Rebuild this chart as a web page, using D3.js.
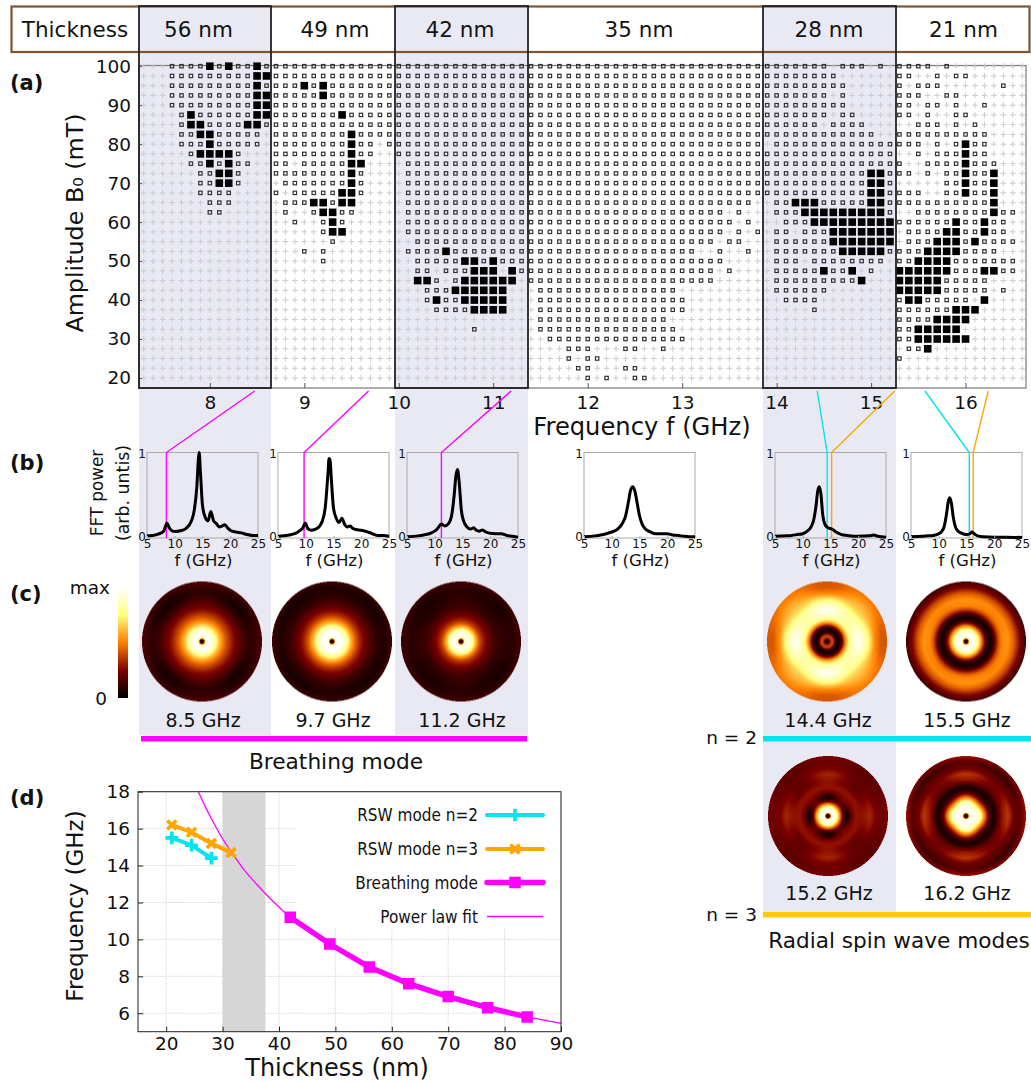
<!DOCTYPE html>
<html>
<head>
<meta charset="utf-8">
<title>Spin wave modes versus thickness</title>
<script src="https://cdn.jsdelivr.net/npm/d3@7"></script>
<style>
  body { margin: 0; background: #fff; }
  text { font-family: "DejaVu Sans", sans-serif; fill: #111; }
</style>
</head>
<body>
<div id="chart"></div>
<script>
// (a) map of the response: + nothing, o weak, # strong. One list per thickness, one string per amplitude
var amplitudes = [100, 97.5, 95, 92.5, 90, 87.5, 85, 82.5, 80, 77.5, 75, 72.5, 70, 67.5, 65, 62.5, 60,
    57.5, 55, 52.5, 50, 47.5, 45, 42.5, 40, 37.5, 35, 32.5, 30, 27.5, 25, 22.5, 20];
var frequencies = [7.3, 7.4, 7.5, 7.6, 7.7, 7.8, 7.9, 8.0, 8.1, 8.2, 8.3, 8.4, 8.5, 8.6,
    8.7, 8.8, 8.9, 9.0, 9.1, 9.2, 9.3, 9.4, 9.5, 9.6, 9.7, 9.8, 9.9,
    10.0, 10.1, 10.2, 10.3, 10.4, 10.5, 10.6, 10.7, 10.8, 10.9, 11.0, 11.1, 11.2, 11.3,
    11.4, 11.5, 11.6, 11.7, 11.8, 11.9, 12.0, 12.1, 12.2, 12.3, 12.4, 12.5, 12.6, 12.7, 12.8, 12.9,
    13.0, 13.1, 13.2, 13.3, 13.4, 13.5, 13.6, 13.7, 13.8,
    13.9, 14.0, 14.1, 14.2, 14.3, 14.4, 14.5, 14.6, 14.7, 14.8, 14.9, 15.0, 15.1, 15.2,
    15.3, 15.4, 15.5, 15.6, 15.7, 15.8, 15.9, 16.0, 16.1, 16.2, 16.3, 16.4, 16.5, 16.6];

var rows56 = [
    "+++oooo#o#oo#o", "+++ooooooooo##", "+++ooooooooo#o", "+++ooooooooo##", "+++ooooooooo##",
    "++++o#oooooo##", "++++o##oooo##o", "++++oo##ooooo+", "++++ooo#ooooo+", "+++++o####o+++",
    "+++++oo#o#oo++", "++++++oo##o+++", "++++++oo##o+++", "++++++oooo++++", "+++++++ooo++++",
    "+++++++oo+++++", "++++++++++++++", "++++++++++++++", "++++++++++++++", "++++++++++++++",
    "++++++++++++++", "++++++++++++++", "++++++++++++++", "++++++++++++++", "++++++++++++++",
    "++++++++++++++", "++++++++++++++", "++++++++++++++", "++++++++++++++", "++++++++++++++",
    "++++++++++++++", "++++++++++++++", "++++++++++++++"];
var rows49 = [
    "ooooooooooooo", "ooooooooooooo", "ooo#o#ooooooo", "ooooo#ooooooo", "ooooooooooooo",
    "ooooooo#ooooo", "ooooooooooooo", "oooooooo#oooo", "oooooooo#oo+o", "oooooooo#oo++",
    "oo+ooooo##+++", "oooooooo#o+++", "+ooooooo#o+++", "o+ooooo##o+++", "+ooo##o##++++",
    "+o++o##oo++++", "++o++o#o+++++", "+++++o##+++++", "++++++o++++++", "+++o+o+++++++",
    "+++++o+++++++", "+++++++++++++", "+++++++++++++", "+++++++++++++", "+++++++++++++",
    "+++++++++++++", "+++++++++++++", "+++++++++++++", "+++++++++++++", "+++++++++++++",
    "+++++++++++++", "+++++++++++++", "+++++++++++++"];
var rows42 = [
    "oooooooooooooo", "oooooooooooooo", "oooooooooooooo", "oooooooooooooo", "oooooooooooooo",
    "oooooooooooooo", "oooooooooooooo", "oooooooooooooo", "oooooooooooooo", "oooooooooooooo",
    "+ooooooooooooo", "+ooooooooooooo", "+ooooooooooooo", "+ooooooooooooo", "+ooooooooooooo",
    "+ooooooooooooo", "+ooooooooooooo", "+ooooooooooooo", "++oooooooooooo", "+oooo#oooooooo",
    "++ooooo##o#ooo", "++oo+ooo###+#o", "++##o+o######+", "+++ooo######++", "+++o#oo#####++",
    "++++oooo####++", "++++++++++++++", "++++++++o+++++", "++++++++++++++", "++++++++++++++",
    "++++++++++++++", "++++++++++++++", "++++++++++++++"];
var rows35 = [
    "ooooooooooooooooooooooooo", "ooooooooooooooooooooooooo", "ooooooooooooooooooooooooo",
    "ooooooooooooooooooooooooo", "ooooooooooooooooooooooooo", "ooooooooooooooooooooooooo",
    "ooooooooooooooooooooooooo", "ooooooooooooooooooooooooo", "ooooooooooooooooooooooooo",
    "ooooooooooooooooooooooooo", "ooooooooooooooooooooooooo", "ooooooooooooooooooooooooo",
    "ooooooooooooooooooooooooo", "ooooooooooooooooooooooooo", "oooooooooooooooooooooooo+",
    "ooooooooooooooooooooo+o++", "oooooooooooooooooooooo+o+", "ooooooooooooooooooooo+o+o",
    "oooooooooooooooooooo+oo++", "oooooooooooooooooo++o++o+", "ooooooooooooooooooooo++++",
    "oooooooooooooooooooo+o+++", "oooooooooooooooooooo+++++", "+ooooooooooooooo+++++++++",
    "+oooooooooooooooo++++++++", "+oooooooooooooooo++++++++", "+oooooooooooooo++++++++++",
    "+ooooooooooooooo+++++++++", "++ooooooooooooooo++++++++", "++++ooo+++oo++o++++++++++",
    "++++o+oo+++++++++++++++++", "+++++oo+++oo+++++++++++++", "++++++o+o++oo++++++++++++"];
var rows28 = [
    "ooooooo+ooo+o+", "oooooooo++++++", "ooooooooo+++++", "ooooooo+o+++++", "ooooooooo+++++",
    "ooooooo+oo++++", "oooooo+oooo+++", "oooooooooooo++", "+ooooooooooooo", "oooooooooooooo",
    "oooooooooooooo", "ooooooooooo##o", "ooooooooooo##o", "ooooooooooo##o", "+oo###ooooo##o",
    "+ooo#########o", "++ooo#########", "+oo+ooo#######", "+oooooo#######", "+ooooooo#####o",
    "+ooo+oooooooo+", "+ooooo#oo#+o++", "+ooooooooo#+++", "+oooooo+++++++", "++oooo++++++++",
    "+++++o++++++++", "++++++++++++++", "++++++++++++++", "++++++++++++++", "++++++++++++++",
    "++++++++++++++", "++++++++++++++", "++++++++++++++"];
var rows21 = [
    "oooo+o++++++++", "oo++o+oo++++++", "o+ooo++++++o++", "ooo++oo+++++++", "oo+oo+o++o++++",
    "oo+o++oo++++++", "++ooo+o+o+++++", "oooooooooo++++", "ooo+o+o#oo++++", "++o+ooo#oo++++",
    "o++oooo#ooo+++", "oo+o+oo#oo#+++", "+++++oo#oo#+++", "ooo++oo#oo#+++", "oooooooooo#+++",
    "++oooooooo#oo+", "oooooo#oo#oo++", "+oooo##oo#oo++", "+ooo###o#oooo+", "ooo####oooo+++",
    "oo####ooooooo+", "######ooo##oo+", "#####ooooo++++", "#####ooooo+o++", "o##ooooo+#++++",
    "oooooo###+++++", "oooo####++++++", "oo#####+++++++", "oo######++++++", "+oo#++++++++++",
    "o+++++++++++++", "++++++++++++++", "++++++++++++++"];
var thicknessRows = [rows56, rows49, rows42, rows35, rows28, rows21];

var ampTicks = [20, 30, 40, 50, 60, 70, 80, 90, 100];
var freqTicks = [8, 9, 10, 11, 12, 13, 14, 15, 16];
var headerLabels = ["56 nm", "49 nm", "42 nm", "35 nm", "28 nm", "21 nm"];

// (b) FFT spectra, frequency and power per thickness
var fft56f = [5, 6, 7, 8, 8.3, 8.6, 9, 9.5, 10, 11, 12, 13, 13.5, 14, 14.25, 14.4, 14.6, 15, 15.5, 16, 16.5, 17, 17.5, 18, 18.5, 19, 19.5, 20, 21, 22, 23, 24, 25];
var fft56p = [.025, .03, .045, .08, .13, .175, .12, .085, .075, .085, .11, .2, .32, .62, .92, 1, .8, .38, .24, .2, .31, .2, .17, .13, .14, .155, .12, .09, .07, .06, .04, .03, .03];
var fft49f = [5, 6, 7, 8, 9, 9.5, 9.9, 10.4, 11, 12, 13, 13.5, 14, 14.2, 14.4, 14.6, 15, 15.5, 16, 16.5, 17, 17.5, 18, 18.5, 19, 20, 21, 22, 23, 24, 25];
var fft49p = [.02, .025, .035, .05, .09, .12, .175, .11, .09, .11, .2, .35, .75, .93, .9, .7, .35, .23, .18, .23, .16, .13, .14, .11, .1, .09, .075, .05, .03, .03, .02];
var fft42f = [5, 7, 8, 9, 10, 10.5, 11.2, 11.8, 12.5, 13, 13.5, 13.8, 14.1, 14.4, 14.8, 15.2, 15.8, 16.5, 17, 17.5, 18, 18.6, 19.2, 20, 21, 22, 23, 24, 25];
var fft42p = [.015, .025, .035, .05, .08, .11, .165, .14, .17, .25, .5, .72, .8, .65, .32, .2, .13, .105, .12, .09, .08, .095, .07, .055, .05, .05, .03, .02, .01];
var fft35f = [5, 7, 8, 9, 10, 11, 12, 12.5, 13, 13.4, 13.8, 14.2, 14.6, 15, 15.5, 16, 17, 18, 19, 20, 21, 22, 23, 24, 25];
var fft35p = [.015, .025, .035, .05, .07, .1, .18, .26, .42, .56, .6, .54, .4, .26, .16, .11, .07, .05, .05, .05, .035, .03, .02, .015, .015];
var fft28f = [5, 7, 8, 9, 10, 11, 11.5, 12, 12.4, 12.7, 13, 13.3, 13.6, 14, 14.5, 15, 15.4, 16, 17, 18, 20, 22, 22.8, 23.5, 25];
var fft28p = [.02, .025, .03, .04, .05, .09, .13, .22, .38, .55, .6, .5, .27, .16, .12, .11, .1, .07, .04, .03, .02, .025, .035, .02, .01];
var fft21f = [5, 7, 8, 9, 10, 10.5, 11, 11.4, 11.7, 12, 12.3, 12.6, 13, 13.5, 14, 15, 15.6, 16, 16.5, 17, 18, 20, 22, 25];
var fft21p = [.015, .02, .025, .03, .05, .075, .14, .28, .42, .47, .4, .25, .13, .08, .06, .04, .05, .07, .045, .025, .015, .01, .01, .005];
var fftTicks = [5, 10, 15, 20, 25];

// (c) radial power profile of the modes, colour value against radius (0 centre, 1 rim)
var radii = [0, .03, .06, .1, .15, .2, .25, .3, .35, .4, .45, .5, .55, .6, .7, .8, .9, 1];
var profile85 = [.02, .1, .85, 1, .97, .88, .72, .6, .5, .42, .36, .3, .25, .2, .12, .07, .09, .15];
var profile97 = [.02, .1, .9, 1, 1, .92, .8, .65, .52, .42, .34, .28, .23, .18, .11, .07, .06, .12];
var profile112 = [.02, .1, .85, 1, .93, .78, .58, .42, .33, .27, .22, .17, .14, .11, .09, .07, .08, .13];
var profile144 = [.02, .1, .35, .4, .08, .03, .2, .48, .7, .82, .87, .89, .89, .85, .7, .56, .48, .45];
var profile155 = [.02, .1, .85, 1, .95, .78, .55, .3, .1, .04, .1, .28, .42, .5, .53, .42, .24, .12];
var profile152 = [.02, .1, .9, 1, .82, .5, .22, .1, .16, .24, .28, .28, .26, .24, .26, .22, .2, .22];
var profile162 = [.02, .1, .88, 1, .97, .9, .72, .48, .28, .12, .05, .08, .18, .25, .3, .2, .15, .28];
// four-fold part of the same profiles, positive means brighter on the horizontal and vertical axes
var fold85 = [0, 0, 0, 0, 0, 0, 0, 0, 0, 0, 0, 0, 0, .01, .02, .025, .02, .01];
var fold97 = [0, 0, 0, 0, 0, 0, 0, 0, 0, 0, 0, 0, 0, 0, .01, .01, .01, .01];
var fold112 = [0, 0, 0, 0, 0, 0, 0, 0, 0, 0, 0, 0, 0, .01, .015, .015, .015, .01];
var fold144 = [0, 0, 0, 0, 0, 0, 0, 0, 0, .01, .04, .07, .07, .06, .03, -.05, -.06, -.03];
var fold155 = [0, 0, 0, 0, 0, 0, 0, 0, 0, 0, 0, 0, .01, .01, .01, .01, .01, .01];
var fold152 = [0, 0, 0, 0, 0, 0, -.04, -.07, -.07, -.02, 0, 0, .02, .05, .06, .02, .02, .02];
var fold162 = [0, 0, 0, 0, 0, .05, .06, .06, .04, .02, 0, 0, .02, .04, .06, .02, .03, .03];
var diskLabels = ["8.5 GHz", "9.7 GHz", "11.2 GHz", "14.4 GHz", "15.5 GHz", "15.2 GHz", "16.2 GHz"];

// (d) frequency against thickness
var n2Thickness = [21, 24.5, 28];
var n2Freq = [15.5, 15.1, 14.4];
var n3Thickness = [21, 24.5, 28, 31.5];
var n3Freq = [16.2, 15.8, 15.2, 14.7];
var breathThickness = [42, 49, 56, 63, 70, 77, 84];
var breathFreq = [11.2, 9.75, 8.5, 7.6, 6.9, 6.3, 5.8];
var fitThickness = [25.7, 27, 28, 30, 32, 34, 36, 38, 40, 42, 49, 56, 63, 70, 77, 84, 90];
var fitFreq = [18, 17.15, 16.55, 15.45, 14.55, 13.7, 13, 12.35, 11.75, 11.2, 9.75, 8.5, 7.6, 6.9, 6.3, 5.8, 5.45];
var thicknessTicks = [20, 30, 40, 50, 60, 70, 80, 90];
var freqDTicks = [6, 8, 10, 12, 14, 16, 18];
var legendLabels = ["RSW mode n=2", "RSW mode n=3", "Breathing mode", "Power law fit"];

var magenta = "#ff00ff", cyan = "#00e5ee", orange = "#ffa500", gold = "#ffc800";
var paleBand = "#e9e9f3", brown = "#80532f";

var svg = d3.select("#chart").append("svg")
    .attr("width", 1031)
    .attr("height", 1083)
    .style("display", "block");

function label(x, y, str, size, anchor, weight) {
    return svg.append("text")
        .attr("x", x).attr("y", y)
        .attr("text-anchor", anchor || "middle")
        .attr("dominant-baseline", "central")
        .attr("font-size", size)
        .attr("font-weight", weight || "normal")
        .text(str);
}

function rotatedLabel(x, y, str, size) {
    return svg.append("text")
        .attr("transform", "translate(" + x + "," + y + ") rotate(-90)")
        .attr("text-anchor", "middle")
        .attr("dominant-baseline", "central")
        .attr("font-size", size)
        .text(str);
}

// pale bands behind the alternate thickness columns
[[139, 271, 735], [395, 528, 735], [763, 896, 912]].forEach(function(b) {
    svg.append("rect")
        .attr("x", b[0]).attr("y", 7)
        .attr("width", b[1] - b[0]).attr("height", b[2] - 7)
        .attr("fill", paleBand);
});

// ---- header
svg.append("rect")
    .attr("x", 11.5).attr("y", 6.5).attr("width", 1018).attr("height", 45.5)
    .attr("fill", "none").attr("stroke", brown).attr("stroke-width", 2.2);
label(75, 29, "Thickness", 21.5);
var headerX = [198.5, 335, 460, 639, 829, 963.5];
headerLabels.forEach(function(t, i) { label(headerX[i], 29, t, 21.5); });

// ---- (a)
var x = d3.scaleLinear().domain([7.25, 16.64]).range([139, 1026]);
var y = d3.scaleLinear().domain([100, 20]).range([66.2, 378]);

svg.append("rect")
    .attr("x", 139).attr("y", 65.5).attr("width", 887).attr("height", 322.5)
    .attr("fill", "none").attr("stroke", "#777").attr("stroke-width", 1.2);

var cells = [];
var column = 0;
thicknessRows.forEach(function(rows) {
    rows.forEach(function(row, r) {
        if (rows.length != amplitudes.length) throw new Error("rows " + rows.length);
        if (row.length != rows[0].length) throw new Error("row " + r + " in " + rows[0]);
        row.split("").forEach(function(state, c) {
            cells.push({ f: frequencies[column + c], a: amplitudes[r], state: state });
        });
    });
    column += rows[0].length;
});
if (column != frequencies.length) throw new Error("columns " + column);

var map = svg.append("g");
map.selectAll(".plus").data(cells.filter(function(d) { return d.state == "+"; }))
    .enter().append("path")
    .attr("class", "plus")
    .attr("transform", function(d) { return "translate(" + x(d.f) + "," + y(d.a) + ")"; })
    .attr("d", "M-3,0H3M0,-3V3")
    .attr("stroke", "#cbcbd0").attr("stroke-width", 1).attr("fill", "none");
map.selectAll(".open").data(cells.filter(function(d) { return d.state == "o"; }))
    .enter().append("rect")
    .attr("class", "open")
    .attr("x", function(d) { return x(d.f) - 1.7; })
    .attr("y", function(d) { return y(d.a) - 1.7; })
    .attr("width", 3.4).attr("height", 3.4)
    .attr("fill", "none").attr("stroke", "#333").attr("stroke-width", 1.2);
map.selectAll(".full").data(cells.filter(function(d) { return d.state == "#"; }))
    .enter().append("rect")
    .attr("class", "full")
    .attr("x", function(d) { return x(d.f) - 3.8; })
    .attr("y", function(d) { return y(d.a) - 3.8; })
    .attr("width", 7.6).attr("height", 7.6)
    .attr("fill", "#000");

var xAxisA = svg.append("g")
    .attr("transform", "translate(0,388)")
    .call(d3.axisBottom(x).tickValues(freqTicks).tickFormat(d3.format("d")).tickSizeInner(-5).tickSizeOuter(0).tickPadding(8));
var yAxisA = svg.append("g")
    .attr("transform", "translate(139,0)")
    .call(d3.axisLeft(y).tickValues(ampTicks).tickSizeInner(-3).tickSizeOuter(0).tickPadding(8));
[xAxisA, yAxisA].forEach(function(a) {
    a.select(".domain").remove();
    a.selectAll("line").attr("stroke", "#555");
    a.selectAll("text").attr("font-size", 18.5).attr("font-family", '"DejaVu Sans"');
});

// black frames over the shaded columns
[[139, 271], [395, 528], [763, 896]].forEach(function(b) {
    svg.append("rect")
        .attr("x", b[0]).attr("y", 6)
        .attr("width", b[1] - b[0]).attr("height", 382)
        .attr("fill", "none").attr("stroke", "#222").attr("stroke-width", 1.8);
});

rotatedLabel(75, 223, "Amplitude B\u2080 (mT)", 23.8);
label(642, 427, "Frequency f (GHz)", 24.2);
label(10, 83, "(a)", 21, "start", "bold");

// ---- (b)  marks: mode frequency, where its connector meets the axis of (a), colour
var fftPanels = [
    { left: 147, f: fft56f, p: fft56p, marks: [[8.5, 8.475, magenta]] },
    { left: 278, f: fft49f, p: fft49p, marks: [[9.7, 9.68, magenta]] },
    { left: 407, f: fft42f, p: fft42p, marks: [[11.2, 11.19, magenta]] },
    { left: 584, f: fft35f, p: fft35p, marks: [] },
    { left: 775, f: fft28f, p: fft28p, marks: [[14.4, 14.43, cyan], [15.2, 15.25, orange]] },
    { left: 911, f: fft21f, p: fft21p, marks: [[15.5, 15.57, cyan], [16.2, 16.24, orange]] }
];
var fftWidth = 111;
var fftY = d3.scaleLinear().domain([0, 1]).range([538, 452.5]);

fftPanels.forEach(function(panel) {
    var fx = d3.scaleLinear().domain([5, 25]).range([panel.left, panel.left + fftWidth]);
    svg.append("rect")
        .attr("x", panel.left).attr("y", fftY(1))
        .attr("width", fftWidth).attr("height", fftY(0) - fftY(1))
        .attr("fill", "none").attr("stroke", "#aaa").attr("stroke-width", 1);

    panel.marks.forEach(function(m) {
        svg.append("polyline")
            .attr("points", [[x(m[1]), 391], [fx(m[0]), fftY(1)], [fx(m[0]), fftY(0)]].join(" "))
            .attr("fill", "none").attr("stroke", m[2]).attr("stroke-width", 1.4);
    });

    var line = d3.line()
        .x(function(d, i) { return fx(panel.f[i]); })
        .y(function(d) { return fftY(d); })
        .curve(d3.curveMonotoneX);
    svg.append("path")
        .attr("d", line(panel.p))
        .attr("fill", "none").attr("stroke", "#000").attr("stroke-width", 3);

    var ax = svg.append("g")
        .attr("transform", "translate(0," + fftY(0) + ")")
        .call(d3.axisBottom(fx).tickValues(fftTicks).tickSizeInner(-2).tickSizeOuter(0).tickPadding(1));
    ax.select(".domain").remove();
    ax.selectAll("line").attr("stroke", "#aaa");
    ax.selectAll("text").attr("font-size", 12).attr("fill", "#333").attr("font-family", '"DejaVu Sans"');

    label(panel.left - 5, fftY(1) + 1, "1", 12).attr("fill", "#333");
    label(panel.left - 5, fftY(0) - 1, "0", 12).attr("fill", "#333");
    label(panel.left + fftWidth / 2 + 1, 560, "f (GHz)", 16.6);
});
rotatedLabel(96.5, 493, "FFT power", 16.8);
rotatedLabel(123, 493, "(arb. untis)", 17.4);
label(10, 463, "(b)", 21, "start", "bold");

// ---- (c)
var heat = d3.scaleLinear()
    .domain([0, .25, .5, .75, 1])
    .range(["#000000", "#7d0000", "#ff8000", "#ffff80", "#ffffff"])
    .clamp(true);

var defs = svg.append("defs");
var barGrad = defs.append("linearGradient")
    .attr("id", "heatBar").attr("x1", 0).attr("x2", 0).attr("y1", 1).attr("y2", 0);
heat.domain().forEach(function(v) {
    barGrad.append("stop").attr("offset", v).attr("stop-color", heat(v));
});
svg.append("rect")
    .attr("x", 118).attr("y", 587).attr("width", 10).attr("height", 111)
    .attr("fill", "url(#heatBar)");
label(110, 587, "max", 18.5, "end");
label(107, 698, "0", 18.5, "end");
label(10, 594, "(c)", 21, "start", "bold");

var disks = [
    { cx: 202, cy: 641.5, values: profile85, fold: fold85, labelY: 720 },
    { cx: 332, cy: 641.5, values: profile97, fold: fold97, labelY: 720 },
    { cx: 461, cy: 641.5, values: profile112, fold: fold112, labelY: 720 },
    { cx: 827, cy: 641.5, values: profile144, fold: fold144, labelY: 720 },
    { cx: 966, cy: 641.5, values: profile155, fold: fold155, labelY: 720 },
    { cx: 828, cy: 816, values: profile152, fold: fold152, labelY: 893 },
    { cx: 966, cy: 816, values: profile162, fold: fold162, labelY: 893 }
];
var diskRadius = 60;

disks.forEach(function(disk, i) {
    var main = d3.scaleLinear().domain(radii).range(disk.values);
    var four = d3.scaleLinear().domain(radii).range(disk.fold);
    var size = diskRadius * 4;
    var canvas = d3.create("canvas").attr("width", size).attr("height", size).node();
    var ctx = canvas.getContext("2d");
    var img = ctx.createImageData(size, size);
    for (var py = 0; py < size; py++) {
        for (var px = 0; px < size; px++) {
            var dx = (px + .5) / (size / 2) - 1, dy = (py + .5) / (size / 2) - 1;
            var r = Math.sqrt(dx * dx + dy * dy);
            if (r > 1) continue;
            var v = main(r) + four(r) * Math.cos(4 * Math.atan2(dy, dx));
            var c = d3.rgb(heat(v));
            var k = (py * size + px) * 4;
            img.data[k] = c.r; img.data[k + 1] = c.g; img.data[k + 2] = c.b; img.data[k + 3] = 255;
        }
    }
    ctx.putImageData(img, 0, 0);
    svg.append("image")
        .attr("x", disk.cx - diskRadius).attr("y", disk.cy - diskRadius)
        .attr("width", diskRadius * 2).attr("height", diskRadius * 2)
        .attr("href", canvas.toDataURL());
    label(disk.cx + 1, disk.labelY, diskLabels[i], 19);
});

// mode bars and their names
svg.append("rect").attr("x", 141).attr("y", 736).attr("width", 386).attr("height", 5.5).attr("fill", magenta);
svg.append("rect").attr("x", 763).attr("y", 736).attr("width", 268).attr("height", 5.5).attr("fill", cyan);
svg.append("rect").attr("x", 763).attr("y", 912).attr("width", 268).attr("height", 5.5).attr("fill", gold);
label(336, 761, "Breathing mode", 21.7);
label(757, 737, "n = 2", 18.5, "end");
label(757, 914, "n = 3", 18.5, "end");
label(899, 940, "Radial spin wave modes", 21.6);

// ---- (d)
var tx = d3.scaleLinear().domain([15, 90]).range([138, 561]);
var fy = d3.scaleLinear().domain([5, 18]).range([1031.7, 791.7]);

var grid = svg.append("g").attr("stroke", "#bbb").attr("stroke-width", .8).attr("stroke-dasharray", "1,1.5");
grid.selectAll(".v").data(thicknessTicks).enter().append("line")
    .attr("x1", function(d) { return tx(d); }).attr("x2", function(d) { return tx(d); })
    .attr("y1", fy(5)).attr("y2", fy(18));
grid.selectAll(".h").data(freqDTicks).enter().append("line")
    .attr("x1", tx(15)).attr("x2", tx(90))
    .attr("y1", function(d) { return fy(d); }).attr("y2", function(d) { return fy(d); });

svg.append("rect")
    .attr("x", tx(30)).attr("y", fy(18))
    .attr("width", tx(37.6) - tx(30)).attr("height", fy(5) - fy(18))
    .attr("fill", "#d6d6d6");
svg.append("rect")
    .attr("x", tx(43)).attr("y", fy(18) + 1)
    .attr("width", tx(90) - tx(43) - 1).attr("height", 134)
    .attr("fill", "#fff");

function series(xs, ys) {
    return xs.map(function(v, i) { return [tx(v), fy(ys[i])]; });
}
var line2d = d3.line();

svg.append("path")
    .attr("d", line2d.curve(d3.curveCatmullRom)(series(fitThickness, fitFreq)))
    .attr("fill", "none").attr("stroke", magenta).attr("stroke-width", 1.3);
line2d.curve(d3.curveLinear);

// markers: plus and times are drawn small and heavy as in the original
function marker(color, type) {
    var size = type == d3.symbolSquare ? 100 : 55;
    return { d: d3.symbol().type(type).size(size)(),
        fill: type == d3.symbolSquare ? color : "none",
        width: type == d3.symbolSquare ? 1.5 : 3.6 };
}
function drawSeries(pts, color, type, width) {
    var m = marker(color, type);
    svg.append("path")
        .attr("d", line2d(pts))
        .attr("fill", "none").attr("stroke", color).attr("stroke-width", width);
    svg.selectAll(null).data(pts).enter().append("path")
        .attr("transform", function(d) { return "translate(" + d[0] + "," + d[1] + ")"; })
        .attr("d", m.d).attr("fill", m.fill)
        .attr("stroke", color).attr("stroke-width", m.width);
}
drawSeries(series(n2Thickness, n2Freq), cyan, d3.symbolPlus, 4);
drawSeries(series(n3Thickness, n3Freq), orange, d3.symbolTimes, 4);
drawSeries(series(breathThickness, breathFreq), magenta, d3.symbolSquare, 5.5);

// legend
var legendY = [815, 849, 882.5, 916.5];
legendLabels.forEach(function(t, i) {
    svg.append("text")
        .attr("x", 478).attr("y", legendY[i])
        .attr("text-anchor", "end")
        .attr("dominant-baseline", "central")
        .attr("font-size", 17)
        .style("font-stretch", "condensed")
        .text(t);
});
drawLegendLine(0, cyan, d3.symbolPlus, 4);
drawLegendLine(1, orange, d3.symbolTimes, 4);
drawLegendLine(2, magenta, d3.symbolSquare, 5.5);
svg.append("line")
    .attr("x1", 487).attr("x2", 543).attr("y1", legendY[3]).attr("y2", legendY[3])
    .attr("stroke", magenta).attr("stroke-width", 1.3);

function drawLegendLine(i, color, type, width) {
    var m = marker(color, type);
    svg.append("line")
        .attr("x1", 487).attr("x2", 543).attr("y1", legendY[i]).attr("y2", legendY[i])
        .attr("stroke", color).attr("stroke-width", width).attr("stroke-linecap", "round");
    svg.append("path")
        .attr("transform", "translate(515," + legendY[i] + ")")
        .attr("d", m.d).attr("fill", m.fill)
        .attr("stroke", color).attr("stroke-width", m.width);
}

svg.append("rect")
    .attr("x", tx(15)).attr("y", fy(18))
    .attr("width", tx(90) - tx(15)).attr("height", fy(5) - fy(18))
    .attr("fill", "none").attr("stroke", "#222").attr("stroke-width", 1);

var xAxisD = svg.append("g")
    .attr("transform", "translate(0," + fy(5) + ")")
    .call(d3.axisBottom(tx).tickValues(thicknessTicks).tickSizeInner(-5).tickSizeOuter(0).tickPadding(5));
var yAxisD = svg.append("g")
    .attr("transform", "translate(" + tx(15) + ",0)")
    .call(d3.axisLeft(fy).tickValues(freqDTicks).tickSizeInner(-5).tickSizeOuter(0).tickPadding(8));
[xAxisD, yAxisD].forEach(function(a) {
    a.select(".domain").remove();
    a.selectAll("line").attr("stroke", "#222");
    a.selectAll("text").attr("font-size", 18.5).attr("font-family", '"DejaVu Sans"');
});

rotatedLabel(75, 906, "Frequency (GHz)", 23);
label(337, 1068, "Thickness (nm)", 24);
label(10, 798, "(d)", 21, "start", "bold");
</script>
</body>
</html>
